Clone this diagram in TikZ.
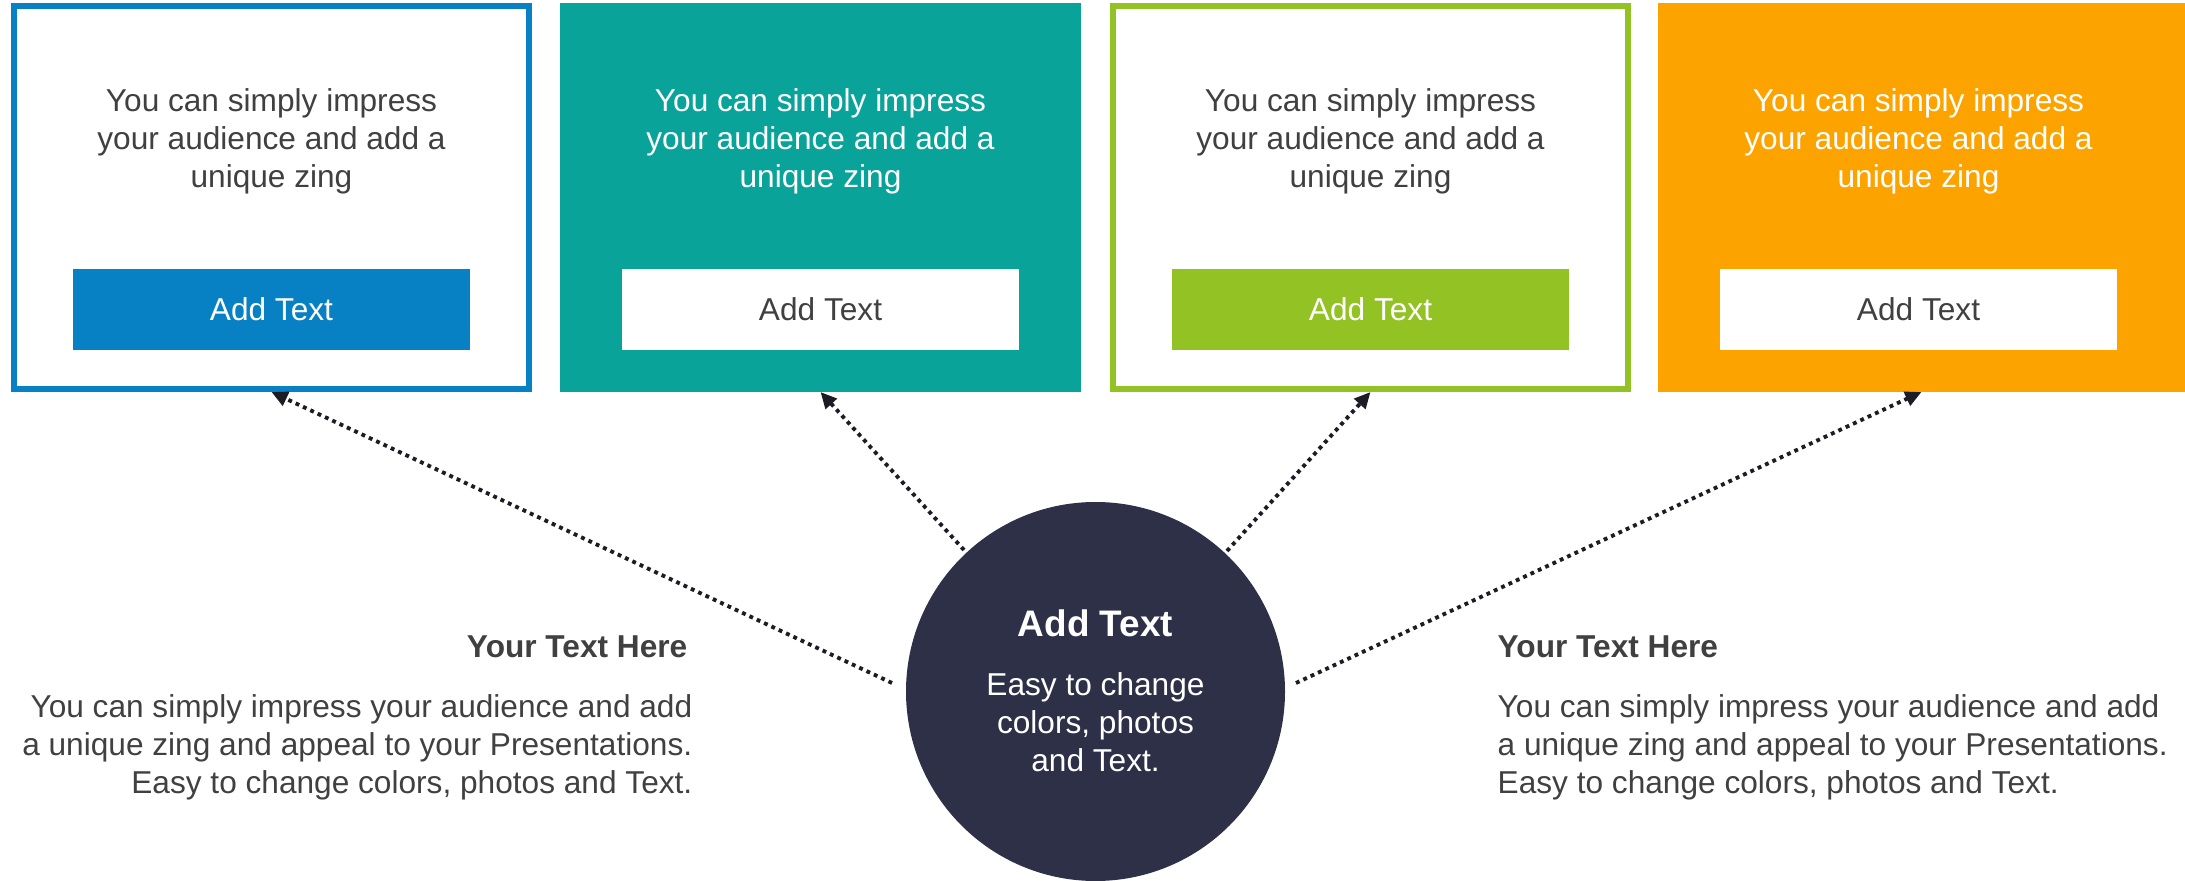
\documentclass[tikz,border=0pt]{standalone}
\usepackage{fontspec}
\setmainfont{Liberation Sans}
\usepackage{xcolor}
\usetikzlibrary{arrows.meta, positioning, calc}

\definecolor{cBlue}{HTML}{0780C4}
\definecolor{cTeal}{HTML}{0AA399}
\definecolor{cGreen}{HTML}{93C224}
\definecolor{cOrange}{HTML}{FDA300}
\definecolor{cNavy}{HTML}{2E3047}
\definecolor{cText}{HTML}{404040}
\definecolor{cDot}{HTML}{1C1C26}

\begin{document}
\begin{tikzpicture}[
  panel/.style={rectangle, line width=0.06cm,
    minimum height=3.83cm, inner sep=0pt},
  blurb/.style={align=center, inner sep=0pt,
    font=\fontsize{9}{10.8}\selectfont},
  tag/.style={rectangle, minimum width=3.97cm, minimum height=0.81cm,
    inner sep=0pt, font=\fontsize{9}{10.8}\selectfont},
  hub/.style={circle, fill=cNavy, minimum size=3.79cm, inner sep=0pt},
  sidehead/.style={text=cText, inner sep=0pt,
    font=\fontsize{9}{10.8}\selectfont\bfseries},
  sidebody/.style={text=cText, inner sep=0pt,
    font=\fontsize{9}{10.8}\selectfont},
  link/.style={-{Triangle[length=4.6pt, width=4.2pt]}, line width=1.1pt,
    draw=cDot, dash pattern=on 1.1pt off 1.2pt},
]
\useasboundingbox (0,0) rectangle (21.85,-8.81);

% top row of panels
\foreach \i/\x/\px/\w/\edge/\bg/\ink/\tagbg/\tagink in {
  1/2.715/2.715/5.15/cBlue/white/cText/cBlue/white,
  2/8.205/8.205/5.15/cTeal/cTeal/white/white/cText,
  3/13.705/13.705/5.15/cGreen/white/cText/cGreen/white,
  4/19.185/19.215/5.21/cOrange/cOrange/white/white/cText}{
  \node[panel, minimum width=\w cm, draw=\edge, fill=\bg] (b\i) at (\px,-1.975) {};
  \node[blurb, text=\ink] (s\i) at (\x,-1.415)
    {You can simply impress\\your audience and add a\\unique zing};
  \node[tag, fill=\tagbg, text=\tagink] (tag\i) at (\x,-3.095) {Add Text};
}

% centre circle
\node[hub] (hub) at (10.955,-6.915) {};
\node[font=\fontsize{10.5}{12.6}\selectfont\bfseries, text=white]
      (hubtitle) at (10.955,-6.23) {Add Text};
\node[blurb, text=white] (hubtext) at (10.955,-7.22)
      {Easy to change\\colors, photos\\and Text.};

% side texts
\node[sidehead, anchor=east] (lhead) at (6.88,-6.466) {Your Text Here};
\node[sidebody, anchor=east, align=right] (lbody) at (6.93,-7.47)
  {You can simply impress your audience and add\\
   a unique zing and appeal to your Presentations.\\
   Easy to change colors, photos and Text.};

\node[sidehead, anchor=west] (rhead) at (14.97,-6.466) {Your Text Here};
\node[sidebody, anchor=west, align=left] (rbody) at (14.97,-7.47)
  {You can simply impress your audience and add\\
   a unique zing and appeal to your Presentations.\\
   Easy to change colors, photos and Text.};

% dotted arrows
\coordinate (from1) at ($(hub.center)+(-2.035,0.085)$);
\coordinate (from2) at ($(hub.center)+(-1.315,1.415)$);
\coordinate (from3) at ($(hub.center)+(1.315,1.405)$);
\coordinate (from4) at ($(hub.center)+(2.005,0.085)$);

\foreach \i in {1,...,4}{
  \draw[link] (from\i) -- (b\i.south);
}

\end{tikzpicture}
\end{document}
